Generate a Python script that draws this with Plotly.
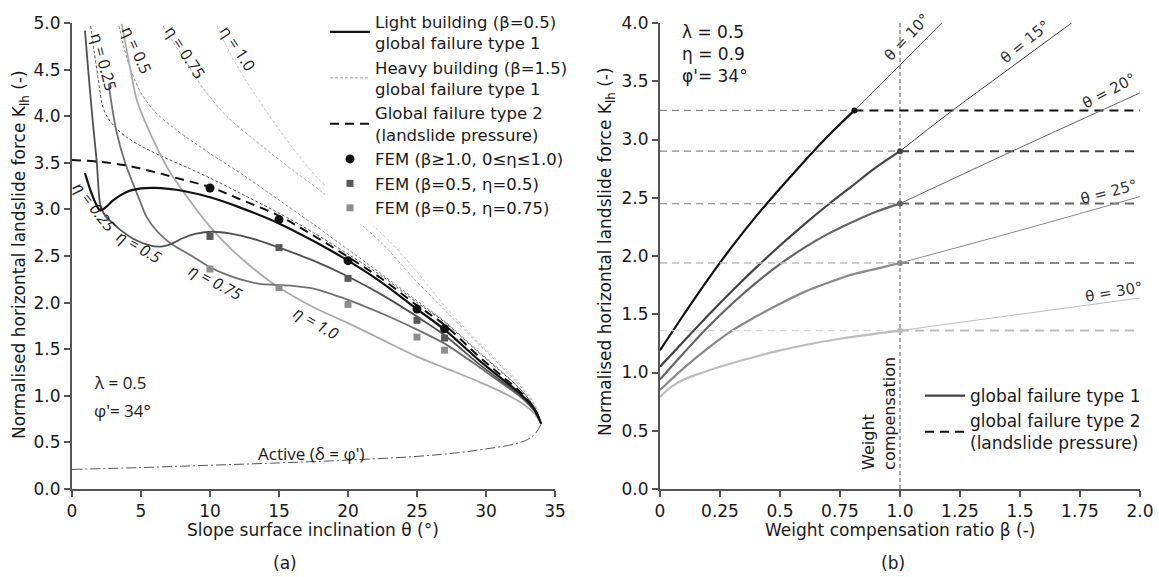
import plotly.graph_objects as go

W, H = 1159, 577
SANS = "DejaVu Sans, Liberation Sans, Arial, sans-serif"
GREEK = "Open Sans, DejaVu Sans, sans-serif"
INK = "#1a1a1a"

# ---------------- panel (a): K_lh against slope inclination ----------------
# light building (beta = 0.5), global failure type 1, one curve per eta
theta_l025 = [0.94, 1.3, 1.7, 2.03, 2.5, 3.0, 4.0, 5.0, 6.0, 7.0, 8.0, 10, 12, 15, 17.5, 20, 22.5, 25, 27, 29.5, 31, 32.5, 33.5, 34]
k_l025 = [3.39, 3.22, 3.07, 2.99, 3.03, 3.10, 3.19, 3.225, 3.23, 3.22, 3.20, 3.13, 3.03, 2.85, 2.66, 2.45, 2.21, 1.93, 1.71, 1.38, 1.20, 1.02, 0.86, 0.70]

theta_l050 = [0.94, 1.2, 1.5, 1.8, 2.05, 2.4, 2.75, 3.5, 4.5, 5.5, 6.4, 7.2, 8.0, 9.0, 10.2, 11.5, 13, 14.8, 17.5, 20, 22.5, 25, 27, 29.5, 31, 32.5, 33.5, 34]
k_l050 = [4.92, 4.45, 3.95, 3.50, 3.05, 2.93, 2.88, 2.78, 2.68, 2.62, 2.60, 2.63, 2.69, 2.74, 2.76, 2.74, 2.69, 2.60, 2.45, 2.28, 2.08, 1.85, 1.65, 1.34, 1.17, 1.00, 0.84, 0.70]

theta_l075 = [2.65, 2.9, 3.2, 3.85, 4.9, 5.4, 6.2, 7.1, 8.8, 10, 11.2, 12.4, 13.6, 14.8, 16, 17.5, 20, 22.5, 25, 27, 29.5, 31, 32.5, 33.5, 34]
k_l075 = [4.35, 4.10, 3.85, 3.50, 3.10, 2.92, 2.76, 2.64, 2.49, 2.38, 2.30, 2.24, 2.20, 2.19, 2.18, 2.15, 2.03, 1.88, 1.71, 1.56, 1.31, 1.15, 0.99, 0.84, 0.70]

theta_l100 = [3.6, 4.0, 4.3, 4.7, 5.65, 6.9, 8.5, 10.2, 11.5, 12.7, 14.8, 17.5, 20, 22.5, 25, 27, 29.5, 31, 32.5, 33.5, 34]
k_l100 = [4.99, 4.68, 4.45, 4.17, 3.82, 3.45, 3.10, 2.78, 2.58, 2.42, 2.18, 1.95, 1.78, 1.60, 1.42, 1.30, 1.15, 1.05, 0.93, 0.81, 0.70]

# heavy building (beta = 1.5), global failure type 1
theta_h025 = [1.35, 1.6, 1.9, 2.2, 2.6, 3.2, 4.0, 5.0, 6.5, 8.5, 10.5, 12.5, 15, 17.5, 20, 22.5, 25, 27, 29.5, 31, 32.5, 33.5, 34]
k_h025 = [4.97, 4.70, 4.40, 4.12, 3.98, 3.87, 3.77, 3.68, 3.57, 3.44, 3.30, 3.15, 2.96, 2.75, 2.52, 2.28, 2.00, 1.79, 1.46, 1.27, 1.07, 0.88, 0.70]

theta_h050 = [3.4, 3.8, 4.3, 5.0, 6.0, 7.5, 10, 12.5, 15, 17.5, 20, 22.5, 25, 27, 29.5, 31, 32.5, 33.5, 34]
k_h050 = [4.97, 4.72, 4.48, 4.25, 4.05, 3.86, 3.60, 3.36, 3.10, 2.84, 2.57, 2.30, 2.02, 1.80, 1.47, 1.28, 1.07, 0.88, 0.70]

theta_h075 = [6.6, 7.3, 8.2, 9.5, 11.2, 13.6, 16, 18, 20, 22.5, 24.7, 27, 29.5, 31, 32.5, 33.5, 34]
k_h075 = [4.97, 4.80, 4.60, 4.30, 4.00, 3.70, 3.42, 3.20, 2.96, 2.63, 2.27, 1.92, 1.55, 1.33, 1.10, 0.90, 0.70]

theta_h100 = [10.5, 11.5, 12.7, 14.8, 16.3, 17.9, 19.5, 21.1, 23, 25, 26.4, 28, 29.5, 31, 32.5, 33.5, 34]
k_h100 = [4.97, 4.66, 4.36, 3.90, 3.60, 3.32, 3.11, 2.92, 2.66, 2.33, 2.07, 1.80, 1.57, 1.35, 1.12, 0.92, 0.70]

# global failure type 2 (landslide pressure)
theta_type2 = [0, 2, 4, 6, 8, 10, 12, 15, 17.5, 20, 22.5, 25, 27, 29.5, 31, 32.5, 33.5, 34]
k_type2 = [3.53, 3.51, 3.47, 3.40, 3.32, 3.24, 3.12, 2.93, 2.72, 2.49, 2.25, 1.97, 1.76, 1.42, 1.23, 1.04, 0.86, 0.70]

# active earth pressure (delta = phi')
theta_active = [0, 5, 10, 15, 20, 25, 28, 30, 32, 33, 33.6, 34]
k_active = [0.21, 0.23, 0.255, 0.28, 0.31, 0.35, 0.39, 0.43, 0.48, 0.53, 0.60, 0.70]

# finite element results
theta_fem = [10, 15, 20, 25, 27]
k_fem_heavy = [3.23, 2.89, 2.45, 1.93, 1.72]
k_fem_eta050 = [2.71, 2.59, 2.26, 1.81, 1.62]
k_fem_eta075 = [2.36, 2.16, 1.98, 1.63, 1.49]

# ---------------- panel (b): K_lh against weight compensation ratio ----------------
theta_labels = ["θ = 10°", "θ = 15°", "θ = 20°", "θ = 25°", "θ = 30°"]
beta_crit = [0.81, 1.0, 1.0, 1.0, 1.0]
k_type2_b = [3.25, 2.90, 2.45, 1.94, 1.36]

beta_t1 = [
    [0, 0.1, 0.2, 0.3, 0.4, 0.5, 0.6, 0.7, 0.81],
    [0, 0.1, 0.2, 0.3, 0.4, 0.5, 0.6, 0.7, 0.8, 0.9, 1.0],
    [0, 0.1, 0.2, 0.3, 0.4, 0.5, 0.6, 0.7, 0.8, 0.9, 1.0],
    [0, 0.1, 0.2, 0.3, 0.4, 0.5, 0.6, 0.7, 0.8, 0.9, 1.0],
    [0, 0.05, 0.1, 0.15, 0.25, 0.5, 0.75, 1.0],
]
k_t1 = [
    [1.19, 1.50, 1.80, 2.08, 2.34, 2.58, 2.81, 3.03, 3.25],
    [1.05, 1.27, 1.49, 1.70, 1.90, 2.09, 2.27, 2.44, 2.60, 2.76, 2.90],
    [0.94, 1.17, 1.39, 1.59, 1.77, 1.93, 2.07, 2.19, 2.29, 2.38, 2.45],
    [0.85, 1.04, 1.21, 1.36, 1.48, 1.59, 1.69, 1.77, 1.84, 1.89, 1.94],
    [0.79, 0.88, 0.94, 0.98, 1.05, 1.19, 1.29, 1.36],
]
beta_ext = [
    [0.81, 1.0, 1.174],
    [1.0, 1.2, 1.45, 1.715],
    [1.0, 1.5, 2.0],
    [1.0, 1.5, 2.0],
    [1.0, 1.5, 2.0],
]
k_ext = [
    [3.25, 3.64, 4.0],
    [2.90, 3.22, 3.60, 4.0],
    [2.45, 2.93, 3.40],
    [1.94, 2.22, 2.51],
    [1.36, 1.50, 1.64],
]
beta_range = [0, 2.0]
k_range_b = [0, 4.0]

shade_b = ["#111111", "#444444", "#666666", "#8a8a8a", "#bdbdbd"]
shade_b_left = ["#8c8c8c", "#8c8c8c", "#9a9a9a", "#bdbdbd", "#dadada"]

fig = go.Figure()

def add(x, y, **kw):
    kw.setdefault("showlegend", False)
    fig.add_trace(go.Scatter(x=x, y=y, hoverinfo="skip", **kw))

# --- panel (a) traces ---
add(theta_active, k_active, mode="lines", line=dict(color="#555555", width=1, dash="10px,3px,2px,3px", shape="spline"))
for th, kk, col in [(theta_h100, k_h100, "#c4c4c4"), (theta_h075, k_h075, "#a8a8a8"),
                    (theta_h050, k_h050, "#888888"), (theta_h025, k_h025, "#555555")]:
    add(th, kk, mode="lines", line=dict(color=col, width=1, dash="3px,2px", shape="spline", smoothing=0.8))
add(theta_l100, k_l100, mode="lines", line=dict(color="#ababab", width=1.8, shape="spline", smoothing=0.8))
add(theta_l075, k_l075, mode="lines", line=dict(color="#707070", width=1.8, shape="spline", smoothing=0.8))
add(theta_l050, k_l050, mode="lines", line=dict(color="#505050", width=1.8, shape="spline", smoothing=0.8))
add(theta_type2, k_type2, mode="lines", line=dict(color="#111111", width=2, dash="9px,6px", shape="spline"),
    showlegend=True, legend="legend", legendrank=3,
    name="Global failure type 2<br>(landslide pressure)")
add(theta_l025, k_l025, mode="lines", line=dict(color="#111111", width=2.2, shape="spline", smoothing=0.8),
    showlegend=True, legend="legend", legendrank=1,
    name="Light building (β=0.5)<br>global failure type 1")
# legend sample for the heavy-building curves
fig.add_trace(go.Scatter(x=[None], y=[None], mode="lines", line=dict(color="#9a9a9a", width=1, dash="3px,2px"),
                         legend="legend", legendrank=2, name="Heavy building (β=1.5)<br>global failure type 1"))
add(theta_fem, k_fem_heavy, mode="markers", marker=dict(symbol="circle", size=9, color="#111111"),
    showlegend=True, legend="legend", legendrank=4, name="FEM (β≥1.0, 0≤η≤1.0)")
add(theta_fem, k_fem_eta050, mode="markers", marker=dict(symbol="square", size=7, color="#585858"),
    showlegend=True, legend="legend", legendrank=5, name="FEM (β=0.5, η=0.5)")
add(theta_fem, k_fem_eta075, mode="markers", marker=dict(symbol="square", size=7, color="#8e8e8e"),
    showlegend=True, legend="legend", legendrank=6, name="FEM (β=0.5, η=0.75)")

# --- panel (b) traces ---
add([1.0, 1.0], k_range_b, xaxis="x2", yaxis="y2", mode="lines",
    line=dict(color="#555555", width=1, dash="4px,3px"))
for i in range(5):
    add([0, beta_crit[i]], [k_type2_b[i]] * 2, xaxis="x2", yaxis="y2", mode="lines",
        line=dict(color=shade_b_left[i], width=1.3, dash="7px,5px"))
    add([beta_crit[i], beta_range[1]], [k_type2_b[i]] * 2, xaxis="x2", yaxis="y2", mode="lines",
        line=dict(color=shade_b[i], width=2, dash="9px,6px"),
        showlegend=(i == 0), legend="legend2",
        name="global failure type 2<br>(landslide pressure)")
    add(beta_ext[i], k_ext[i], xaxis="x2", yaxis="y2", mode="lines",
        line=dict(color=shade_b[i] if i else "#555555", width=1, shape="spline"))
    add(beta_t1[i], k_t1[i], xaxis="x2", yaxis="y2", mode="lines",
        line=dict(color=shade_b[i], width=2.2, shape="spline"),
        showlegend=(i == 1), legend="legend2", legendrank=1, name="global failure type 1")
add(beta_crit, k_type2_b, xaxis="x2", yaxis="y2", mode="markers",
    marker=dict(size=6, color=shade_b))

# --- axes ---
axis_common = dict(showgrid=False, zeroline=False, showline=True, linecolor="#555555", linewidth=2,
                   ticks="outside", ticklen=6, tickwidth=1.5, tickcolor="#555555",
                   tickfont=dict(family=SANS, size=17, color=INK), fixedrange=True)
ydom = [88 / H, 554 / H]
fig.update_layout(
    xaxis=dict(domain=[72 / W, 555 / W], range=[0, 35], tickvals=[0, 5, 10, 15, 20, 25, 30, 35], anchor="y", **axis_common),
    yaxis=dict(domain=ydom, range=[0, 5], tickvals=[i * 0.5 for i in range(11)], tickformat=".1f", anchor="x", **axis_common),
    xaxis2=dict(domain=[660 / W, 1140 / W], range=beta_range,
                tickvals=[0, 0.25, 0.5, 0.75, 1.0, 1.25, 1.5, 1.75, 2.0],
                ticktext=["0", "0.25", "0.5", "0.75", "1.0", "1.25", "1.5", "1.75", "2.0"], anchor="y2", **axis_common),
    yaxis2=dict(domain=ydom, range=k_range_b, tickvals=[i * 0.5 for i in range(9)], tickformat=".1f", anchor="x2", **axis_common),
)

ann = []

def note(text, x, y, size=16, angle=0, xref="x", yref="y", family=SANS, color=INK, **kw):
    kw.setdefault("xanchor", "center")
    kw.setdefault("yanchor", "middle")
    ann.append(dict(text=text, x=x, y=y, xref=xref, yref=yref, showarrow=False, textangle=angle,
                    font=dict(family=family, size=size, color=color), **kw))

def pnote(text, xp, yp, **kw):
    note(text, xp / W, 1 - yp / H, xref="paper", yref="paper", **kw)

# eta labels, panel (a)
note("η = 0.25", 2.3, 4.58, angle=75, family=GREEK)
note("η = 0.5", 4.7, 4.71, angle=66, family=GREEK)
note("η = 0.75", 8.2, 4.69, angle=57, family=GREEK)
note("η = 1.0", 12.0, 4.73, angle=57, family=GREEK)
note("<i>η = 0.25</i>", 1.65, 3.03, angle=52, family=GREEK)
note("<i>η = 0.5</i>", 4.9, 2.6, angle=30, family=GREEK)
note("<i>η = 0.75</i>", 10.4, 2.22, angle=28, family=GREEK)
note("<i>η = 1.0</i>", 17.7, 1.78, angle=30, family=GREEK)
note("λ = 0.5", 1.45, 1.14, xanchor="left", family=GREEK, size=17)
note("φ'= 34°", 1.45, 0.84, xanchor="left", family=GREEK, size=17)
note("Active (δ = φ')", 17.3, 0.38, family=GREEK, size=17)

# theta labels, panel (b)
for txt, bx, ky, ang in [("θ = 10°", 1.03, 3.88, -47), ("θ = 15°", 1.52, 3.84, -39),
                         ("θ = 20°", 1.87, 3.42, -28), ("θ = 25°", 1.87, 2.55, -15),
                         ("θ = 30°", 1.89, 1.69, -10)]:
    note(txt, bx, ky, angle=ang, xref="x2", yref="y2", size=15, color="#333333")
note("λ = 0.5<br>η = 0.9<br>φ'= 34°", 0.083, 3.73, xref="x2", yref="y2", xanchor="left", align="left", size=17)
note("Weight<br>compensation", 0.915, 0.65, xref="x2", yref="y2", angle=-90, align="left", size=16)

# axis titles and panel tags
pnote("Slope surface inclination θ (°)", 313, 530, size=17)
pnote("(a)", 285, 563, size=17)
pnote("Weight compensation ratio β (-)", 900, 530, size=17)
pnote("(b)", 893, 563, size=17)
pnote("Normalised horizontal landslide force K<sub>lh</sub> (-)", 20, 255, angle=-90, size=17)
pnote("Normalised horizontal landslide force K<sub>lh</sub> (-)", 606, 252, angle=-90, size=17)

fig.update_layout(
    annotations=ann,
    width=W, height=H, margin=dict(l=0, r=0, t=0, b=0, autoexpand=False),
    paper_bgcolor="white", plot_bgcolor="white",
    font=dict(family=SANS, size=17, color=INK),
    legend=dict(x=325 / W, y=1 - 4 / H, xanchor="left", yanchor="top", bgcolor="white",
                font=dict(family=SANS, size=16.5, color=INK), valign="middle", tracegroupgap=0,
                itemwidth=40),
    legend2=dict(x=920 / W, y=1 - 378 / H, xanchor="left", yanchor="top", bgcolor="rgba(255,255,255,0)",
                 font=dict(family=SANS, size=17, color=INK), valign="middle", itemwidth=40),
)

fig.write_html("out.html")
